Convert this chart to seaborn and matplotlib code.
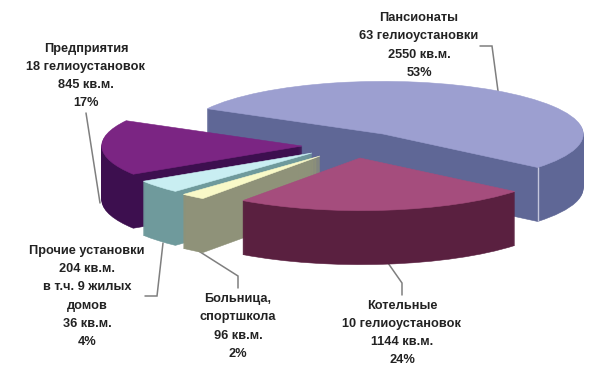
import matplotlib
matplotlib.use("Agg")
import matplotlib.pyplot as plt
from matplotlib.transforms import Affine2D
import seaborn as sns

# data
categories = ["Пансионаты", "Котельные", "Больница, спортшкола", "Прочие установки", "Предприятия"]
shares = [53, 24, 2, 4, 17]
labels = [
    "Пансионаты\n63 гелиоустановки\n2550 кв.м.\n53%",
    "Котельные\n10 гелиоустановок\n1144 кв.м.\n24%",
    "Больница,\nспортшкола\n96 кв.м.\n2%",
    "Прочие установки\n204 кв.м.\nв т.ч. 9 жилых\nдомов\n36 кв.м.\n4%",
    "Предприятия\n18 гелиоустановок\n845 кв.м.\n17%",
]

# style
top_colors = ["#9c9fd0", "#a54d7d", "#f9f9c8", "#c9eef2", "#7b2583"]
side_colors = ["#5f6796", "#5a2040", "#8f9279", "#6f9a9c", "#3d0f4f"]
apex = [(383, 134), (360, 158), (320, 156), (312, 153), (302, 146)]
draw_rank = [0, 4, 3, 2, 1]
label_pos = [(419, 45.5), (402, 333), (238, 326.5), (87, 296.5), (86, 76)]
leaders = [
    ([480, 492, 498], [46, 46, 91]),
    ([402, 402, 388], [295, 283, 263]),
    ([238, 238, 197], [288, 276, 250]),
    ([145, 157, 163], [296, 296, 243]),
    ([86, 100], [113, 203]),
]
DEPTH = 54

sns.set_theme(style="white")
plt.rcParams["font.family"] = ["Liberation Sans", "DejaVu Sans"]

fig = plt.figure(figsize=(6.0, 3.76), dpi=100, facecolor="white")
ax = fig.add_axes([0, 0, 1, 1])


def layer(colors, drop, z_base):
    wedges, _ = ax.pie(shares, colors=colors, startangle=160, counterclock=False,
                       wedgeprops={"linewidth": 0.4, "edgecolor": "none"})
    for i, w in enumerate(wedges):
        tx, ty = apex[i]
        w.set_transform(Affine2D.from_values(198, 8, 30, -52, tx, ty + drop) + ax.transData)
        w.set_zorder(10 + draw_rank[i] * 100 + z_base)
        w.set_edgecolor(colors[i])
        w.set_clip_on(False)


for d in range(DEPTH, 0, -1):
    layer(side_colors, d, DEPTH - d)
layer(top_colors, 0, DEPTH + 1)

ax.set_xlim(0, 600)
ax.set_ylim(376, 0)
ax.set_aspect("auto")
ax.axis("off")

# seam on the blue slice
ax.plot([538, 538], [167, 221], color="#c4c6dc", lw=1.0, zorder=80, solid_capstyle="butt")

for xs, ys in leaders:
    ax.plot(xs, ys, color="#7f7f7f", lw=1.1, zorder=5, solid_joinstyle="miter")

for (x, y), s in zip(label_pos, labels):
    ax.text(x, y, s, ha="center", va="center", fontsize=9.2, fontweight="bold",
            color="#222222", linespacing=1.68, zorder=1000)

fig.savefig("out.png", dpi=100, facecolor="white")
